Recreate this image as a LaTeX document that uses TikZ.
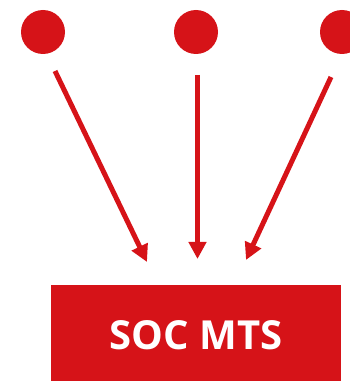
\documentclass[tikz,border=0pt]{standalone}
\usepackage{fontspec}
\setsansfont{Open Sans}
\usetikzlibrary{positioning, arrows.meta, calc}
\usepackage{xcolor}
\definecolor{socred}{RGB}{214,19,24}

\begin{document}
\begin{tikzpicture}[
  x=1pt, y=1pt,
  src/.style={circle, fill=socred, draw=none, minimum size=44pt, inner sep=0pt},
  target/.style={rectangle, fill=socred, draw=none, minimum width=290pt,
                 minimum height=120pt, inner sep=0pt},
  arr/.style={-{Triangle[length=17pt, width=17pt]}, line width=5pt, draw=socred},
  lbl/.style={font=\fontsize{40}{40}\selectfont\bfseries\sffamily, text=white}
]
\useasboundingbox (0,0) rectangle (350,381);

% ===== SOURCES =====
\node[src] (srcl) at (43,349) {};
\node[src] (srcm) at (196,349) {};
\node[src] (srcr) at (342,349) {};

% ===== TARGET BOX =====
\node[target, anchor=north] (soc) at (196,96) {};
\node[lbl] (soclbl) at (196,46) {SOC MTS};

% ===== ARROW ENDS =====
\coordinate (al) at ($(srcl)+(12,-39)$);
\coordinate (am) at ($(srcm)+(1.5,-43)$);
\coordinate (ar) at ($(srcr)+(-11,-45)$);
\coordinate (tl) at ($(soc.north)+(-49,23)$);
\coordinate (tm) at ($(soc.north)+(1.5,26)$);
\coordinate (tr) at ($(soc.north)+(50,25)$);

% ===== ARROWS =====
\draw[arr] (al) -- (tl);
\draw[arr] (am) -- (tm);
\draw[arr] (ar) -- (tr);

\end{tikzpicture}
\end{document}
